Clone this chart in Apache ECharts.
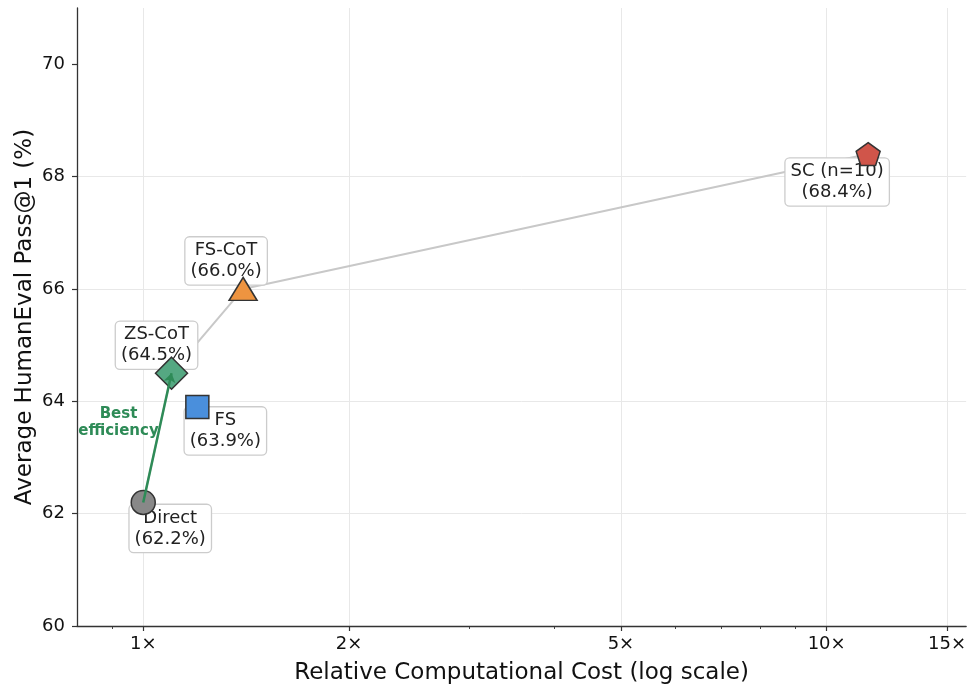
<!DOCTYPE html>
<html>
<head>
<meta charset="utf-8">
<script src="https://cdn.jsdelivr.net/npm/echarts@6/dist/echarts.min.js"></script>
<style>
  html, body { margin: 0; padding: 0; background: #fff; overflow: hidden; }
  #chart { width: 100vw; height: 100vh; }
</style>
</head>
<body>
<div id="chart"></div>
<script>
// Prompting methods: relative cost vs. average pass rate
const methods  = ['Direct', 'ZS-CoT', 'FS', 'FS-CoT', 'SC (n=10)'];
const cost     = [1.0, 1.1, 1.2, 1.4, 11.5];
const passRate = [62.2, 64.5, 63.9, 66.0, 68.4];

// Methods on the cost/accuracy frontier, in order
const frontier = ['Direct', 'ZS-CoT', 'FS-CoT', 'SC (n=10)'];

// Axis ticks
const xMajorTicks = [1, 2, 5, 10, 15];
const xMinorTicks = [0.9, 3, 4, 6, 7, 8, 9];
const yTicks      = [60, 62, 64, 66, 68, 70];

const FONT = 'DejaVu Sans';
const EDGE = '#333333';

const markerStyle = {
  'Direct':    { symbol: 'circle',  size: 24,       color: '#888888', offset: [27, 26] },
  'ZS-CoT':    { symbol: 'diamond', size: [32, 32], color: '#55a882', offset: [-15, -28] },
  'FS':        { symbol: 'rect',    size: [23, 23], color: '#4a8fdc', offset: [28, 24] },
  'FS-CoT':    { symbol: 'triangle', size: [28, 23], color: '#ee9440', offset: [-17, -28] },
  'SC (n=10)': { symbol: 'path://M0,-1 L0.951,-0.309 L0.588,0.809 L-0.588,0.809 L-0.951,-0.309 Z',
                 size: [24, 23], color: '#d0554a', offset: [-31, 28] }
};

const idx = name => methods.indexOf(name);

const frontierData = frontier.map(n => [cost[idx(n)], passRate[idx(n)]]);

const labelData = methods.map((n, i) => ({
  value: [cost[i], passRate[i]],
  name: n,
  label: { offset: markerStyle[n].offset }
}));

const markerData = methods.map((n, i) => ({
  value: [cost[i], passRate[i]],
  name: n,
  symbol: markerStyle[n].symbol,
  symbolSize: markerStyle[n].size,
  itemStyle: { color: markerStyle[n].color, borderColor: EDGE, borderWidth: 1.5, opacity: 1 }
}));

const chart = echarts.init(document.getElementById('chart'), null, { renderer: 'canvas' });

chart.setOption({
  animation: false,
  backgroundColor: '#ffffff',
  textStyle: { fontFamily: FONT },
  grid: { left: 77, right: 0, top: 8, bottom: 60, containLabel: false },
  xAxis: [
    {
      type: 'log',
      logBase: 10,
      min: 0.8,
      max: 16,
      position: 'bottom',
      name: 'Relative Computational Cost (log scale)',
      nameLocation: 'middle',
      nameGap: 36,
      nameMoveOverlap: false,
      nameTextStyle: { fontFamily: FONT, fontSize: 23, color: '#111' },
      axisLine: { show: true, onZero: false, lineStyle: { color: EDGE, width: 1.3 } },
      axisTick: { show: true, inside: false, length: 5, customValues: xMajorTicks,
                  lineStyle: { color: EDGE, width: 1.2 } },
      axisLabel: { show: true, customValues: xMajorTicks, margin: 9,
                   fontFamily: FONT, fontSize: 18, color: '#111',
                   formatter: v => v + '\u00d7' },
      splitLine: { show: true, lineStyle: { color: '#e8e8e8', width: 1 } }
    },
    {
      type: 'log',
      logBase: 10,
      min: 0.8,
      max: 16,
      position: 'bottom',
      axisLine: { show: false },
      axisTick: { show: true, inside: false, length: 3, customValues: xMinorTicks,
                  lineStyle: { color: EDGE, width: 0.9 } },
      axisLabel: { show: false },
      splitLine: { show: false }
    }
  ],
  yAxis: {
    type: 'value',
    min: 60,
    max: 71,
    interval: 2,
    name: 'Average HumanEval Pass@1 (%)',
    nameLocation: 'middle',
    nameGap: 40,
    nameMoveOverlap: false,
    nameRotate: 90,
    nameTextStyle: { fontFamily: FONT, fontSize: 23, color: '#111' },
    axisLine: { show: true, lineStyle: { color: EDGE, width: 1.3 } },
    axisTick: { show: true, length: 5, customValues: yTicks, lineStyle: { color: EDGE, width: 1.2 } },
    axisLabel: { customValues: yTicks, margin: 12, fontFamily: FONT, fontSize: 18, color: '#111' },
    splitLine: { show: true, showMaxLine: false, lineStyle: { color: '#e8e8e8', width: 1 } }
  },
  series: [
    {
      // Frontier connecting the efficient methods
      type: 'line',
      data: frontierData,
      symbol: 'none',
      z: 1,
      lineStyle: { color: '#c8c8c8', width: 2 },
      silent: true
    },
    {
      // Annotation arrow and its caption
      type: 'scatter',
      z: 2,
      data: [{ value: [0.92, 63.62] }],
      symbolSize: 0,
      itemStyle: { opacity: 1 },
      label: {
        show: true,
        position: 'inside',
        formatter: 'Best\nefficiency',
        fontFamily: FONT,
        fontSize: 15,
        fontWeight: 'bold',
        lineHeight: 17,
        color: '#2e8b57',
        align: 'center'
      },
      markLine: {
        silent: true,
        symbol: ['none', 'arrow'],
        symbolSize: 9,
        label: { show: false },
        lineStyle: { color: '#2e8b57', width: 2.5, type: 'solid', opacity: 1 },
        data: [[{ coord: [cost[idx('Direct')], passRate[idx('Direct')]] },
                { coord: [cost[idx('ZS-CoT')], passRate[idx('ZS-CoT')]] }]]
      }
    },
    {
      // Boxed value labels
      type: 'scatter',
      z: 3,
      data: labelData,
      symbolSize: 0,
      itemStyle: { opacity: 1 },
      label: {
        show: true,
        position: 'inside',
        formatter: p => p.name + '\n(' + p.value[1].toFixed(1) + '%)',
        fontFamily: FONT,
        fontSize: 18,
        lineHeight: 21,
        color: '#222',
        align: 'center',
        backgroundColor: '#ffffff',
        borderColor: '#cccccc',
        borderWidth: 1.3,
        borderRadius: 4,
        padding: [3, 5, 2, 5]
      }
    },
    {
      // Method markers
      type: 'scatter',
      z: 4,
      data: markerData,
      itemStyle: { opacity: 1 },
      label: { show: false }
    }
  ]
});
</script>
</body>
</html>
